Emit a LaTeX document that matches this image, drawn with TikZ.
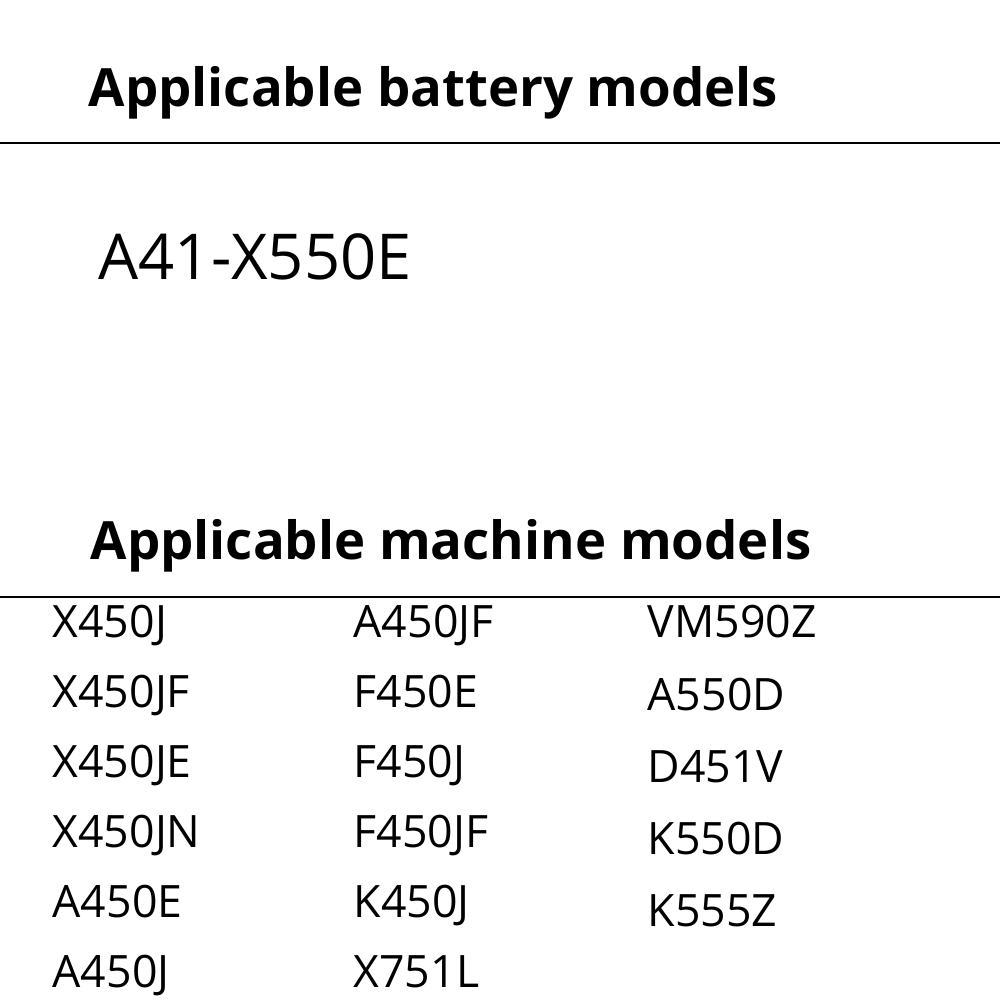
\documentclass[tikz,border=0pt]{standalone}
\usepackage{fontspec}
\setmainfont{Open Sans}
\tikzset{
  heading/.style={anchor=base west, inner sep=0pt, font=\bfseries\fontsize{15pt}{17pt}\selectfont},
  battery/.style={anchor=base west, inner sep=0pt, font=\fontsize{18pt}{20pt}\selectfont},
  model/.style={anchor=base west, inner sep=0pt, font=\fontsize{12.7pt}{14pt}\selectfont}
}
\begin{document}
\begin{tikzpicture}
\useasboundingbox (0,0) rectangle (10,10);
\node [heading] (hbat) at (0.88,8.93) {Applicable battery models};
\draw [black, line width=0.6pt] (0,8.57) -- (10,8.57);
\node [battery] (bat) at (0.98,7.20) {A41-X550E};
\node [heading] (hmac) at (0.90,4.40) {Applicable machine models};
\draw [black, line width=0.6pt] (0,4.03) -- (10,4.03);
\foreach \m [count=\i] in {X450J,X450JF,X450JE,X450JN,A450E,A450J}
  \node [model] (ma\i) at (0.52,{3.62-(\i-1)*0.70}) {\m};
\foreach \m [count=\i] in {A450JF,F450E,F450J,F450JF,K450J,X751L}
  \node [model] (mb\i) at (3.53,{3.62-(\i-1)*0.70}) {\m};
\foreach \m [count=\i] in {VM590Z,A550D,D451V,K550D,K555Z}
  \node [model] (mc\i) at (6.47,{3.62-(\i-1)*0.722}) {\m};
\end{tikzpicture}
\end{document}
